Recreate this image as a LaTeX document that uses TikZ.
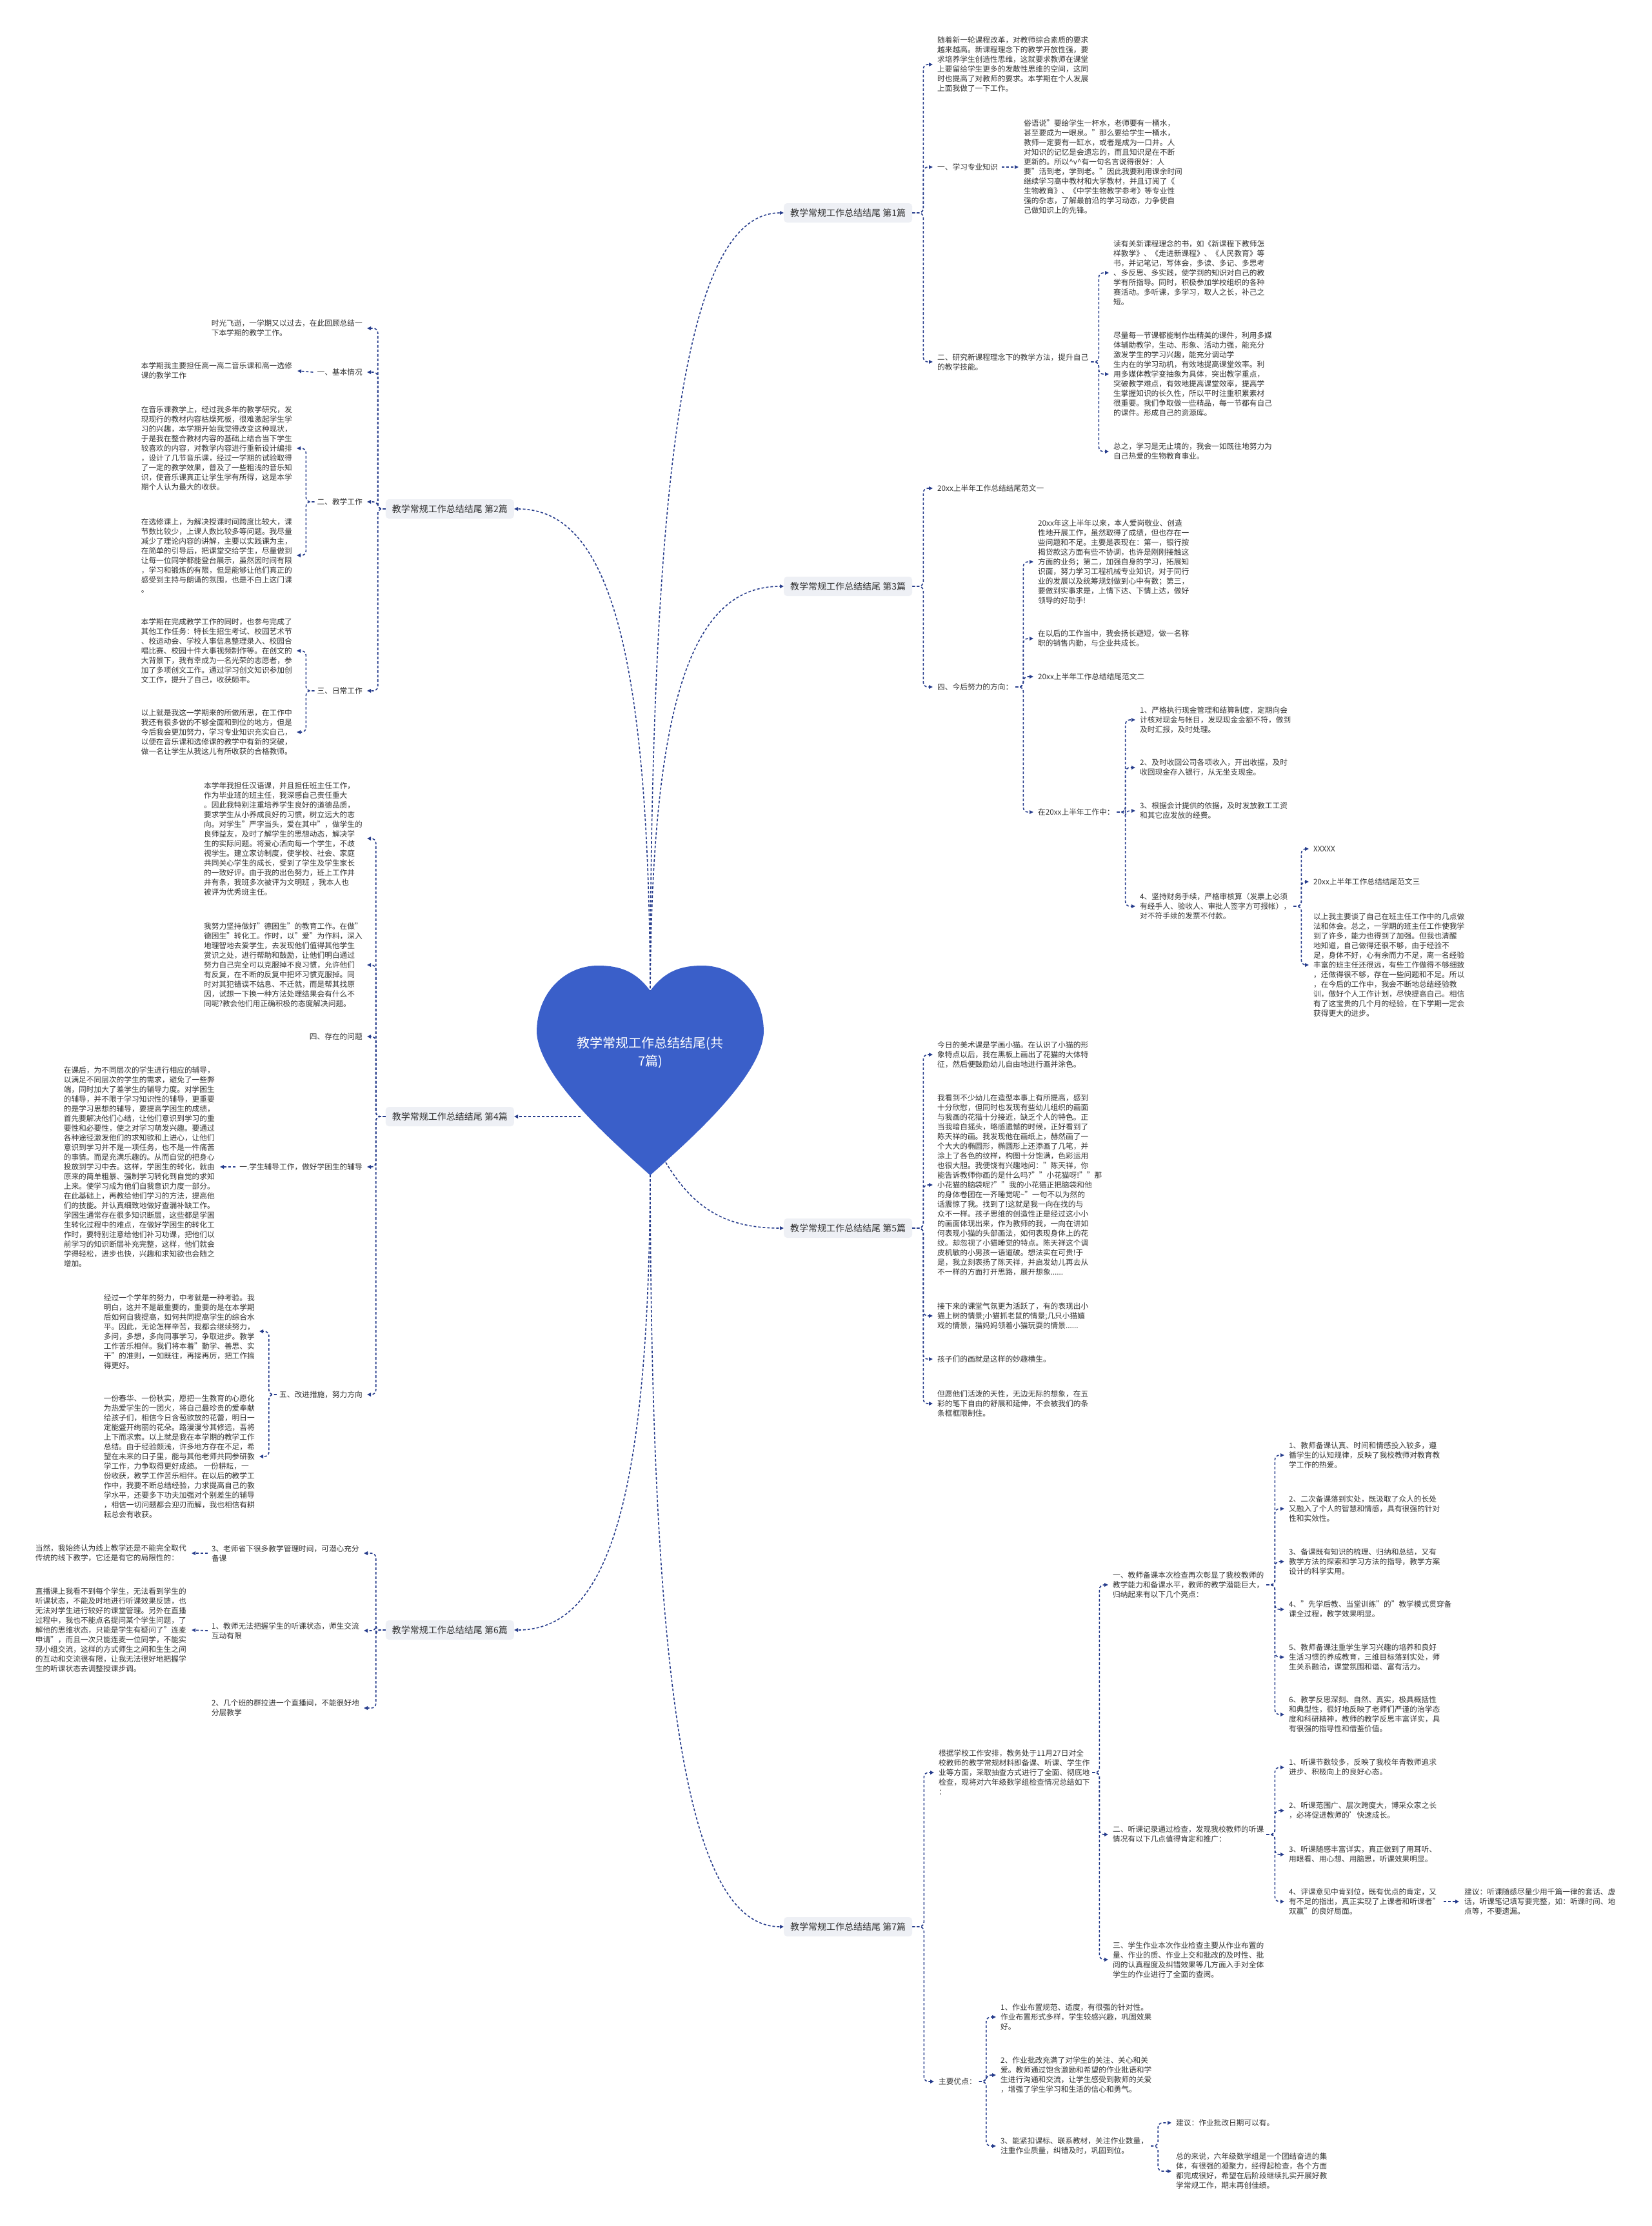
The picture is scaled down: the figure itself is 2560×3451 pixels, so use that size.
\documentclass[tikz,border=0pt]{standalone}
\usepackage{fontspec}
\setmainfont{Noto Sans CJK SC}
\usetikzlibrary{arrows.meta}
\definecolor{lk}{RGB}{38,60,140}
\definecolor{tc}{HTML}{333333}
\definecolor{lb}{HTML}{EEF0F5}
\definecolor{hc}{RGB}{58,95,201}
\begin{document}
\begin{tikzpicture}[x=1pt,y=-1pt,
  conn/.style={draw=lk,line width=1.6pt,dash pattern=on 4pt off 3pt,rounded corners=7pt,-{Triangle[length=6pt,width=5.5pt]}},
  txt/.style={inner sep=0pt,align=left,text=tc,font=\fontsize{11.7}{15}\selectfont},
  lbl/.style={fill=lb,rounded corners=5pt,text=tc,font=\fontsize{14}{16}\selectfont,minimum height=30pt,inner xsep=10pt,inner ysep=0pt}]
\fill[white] (0,0) rectangle (2560,3451);
\useasboundingbox (0,0) rectangle (2560,3451);

% ---------- heart anchor coordinates ----------
\coordinate (htop) at (1008,1560);
\coordinate (hbot) at (1008,1800);
\coordinate (hleft) at (900,1731);
\coordinate (hright) at (1025,1790);

% ---------- branch labels ----------
\node[lbl,anchor=west] (L1) at (1215,330) {教学常规工作总结结尾 第1篇};
\node[lbl,anchor=west] (L3) at (1215,909) {教学常规工作总结结尾 第3篇};
\node[lbl,anchor=west] (L5) at (1215,1904) {教学常规工作总结结尾 第5篇};
\node[lbl,anchor=west] (L7) at (1215,2987) {教学常规工作总结结尾 第7篇};
\node[lbl,anchor=east] (L2) at (797,789) {教学常规工作总结结尾 第2篇};
\node[lbl,anchor=east] (L4) at (797,1731) {教学常规工作总结结尾 第4篇};
\node[lbl,anchor=east] (L6) at (797,2527) {教学常规工作总结结尾 第6篇};

% ---------- heart connectors ----------
\draw[conn] (htop) .. controls (1008,633) and (1079,330) .. (L1.west);
\draw[conn] (htop) .. controls (1008,1067) and (1079,909) .. (L3.west);
\draw[conn] (htop) .. controls (1008,977) and (935,789) .. (L2.east);
\draw[conn] (hleft) -- (L4.east);
\draw[conn] (hright) .. controls (1070,1870) and (1120,1904) .. (L5.west);
\draw[conn] (hbot) .. controls (1008,2351) and (935,2527) .. (L6.east);
\draw[conn] (hbot) .. controls (1008,2696) and (1079,2987) .. (L7.west);

% ---------- heart ----------
\fill[hc] (1008,1536) .. controls (985,1505) and (960,1497) .. (927,1497)
  .. controls (875,1497) and (832,1540) .. (832,1600)
  .. controls (835,1670) and (950,1770) .. (1008,1822)
  .. controls (1066,1770) and (1181,1670) .. (1184,1600)
  .. controls (1184,1540) and (1141,1497) .. (1089,1497)
  .. controls (1056,1497) and (1031,1505) .. (1008,1536) -- cycle;
\node[text=white,align=center,font=\fontsize{20}{28}\selectfont,inner sep=0pt] (root) at (1008,1632) {教学常规工作总结结尾(共\\7篇)};

% ================= Branch 1 =================
\node[txt,anchor=west] (b1a) at (1453,100) {随着新一轮课程改革，对教师综合素质的要求\\越来越高。新课程理念下的教学开放性强，要\\求培养学生创造性思维，这就要求教师在课堂\\上要留给学生更多的发散性思维的空间，这同\\时也提高了对教师的要求。本学期在个人发展\\上面我做了一下工作。};
\node[txt,anchor=west] (b1b) at (1453,259) {一、学习专业知识};
\node[txt,anchor=west] (b1b1) at (1587,259) {俗语说"要给学生一杯水，老师要有一桶水，\\甚至要成为一眼泉。"那么要给学生一桶水，\\教师一定要有一缸水，或者是成为一口井。人\\对知识的记忆是会遗忘的，而且知识是在不断\\更新的。所以\textasciicircum v\textasciicircum 有一句名言说得很好：人\\要"活到老，学到老。"因此我要利用课余时间\\继续学习高中教材和大学教材，并且订阅了《\\生物教育》、《中学生物教学参考》等专业性\\强的杂志，了解最前沿的学习动态，力争使自\\己做知识上的先锋。};
\node[txt,anchor=west] (b1c) at (1453,561) {二、研究新课程理念下的教学方法，提升自己\\的教学技能。};
\node[txt,anchor=west] (b1c1) at (1726,423) {读有关新课程理念的书，如《新课程下教师怎\\样教学》、《走进新课程》、《人民教育》等\\书，并记笔记，写体会，多读、多记、多思考\\、多反思、多实践，使学到的知识对自己的教\\学有所指导。同时，积极参加学校组织的各种\\赛活动。多听课，多学习，取人之长，补己之\\短。};
\node[txt,anchor=west] (b1c2) at (1726,580) {尽量每一节课都能制作出精美的课件，利用多媒\\体辅助教学，生动、形象、活动力强，能充分\\激发学生的学习兴趣，能充分调动学\\生内在的学习动机，有效地提高课堂效率。利\\用多媒体教学变抽象为具体，突出教学重点，\\突破教学难点，有效地提高课堂效率，提高学\\生掌握知识的长久性，所以平时注重积累素材\\很重要。我们争取做一些精品，每一节都有自己\\的课件。形成自己的资源库。};
\node[txt,anchor=west] (b1c3) at (1726,700) {总之，学习是无止境的，我会一如既往地努力为\\自己热爱的生物教育事业。};
\draw[conn] (L1.east) -- ++(17,0) |- ([xshift=-7pt]b1a.west);
\draw[conn] (L1.east) -- ++(17,0) |- ([xshift=-7pt]b1b.west);
\draw[conn] (L1.east) -- ++(17,0) |- ([xshift=-7pt]b1c.west);
\draw[conn] ([xshift=6pt]b1b.east) -- ([xshift=-8pt]b1b1.west);
\draw[conn] ([xshift=4pt]b1c.east) -- ++(12,0) |- ([xshift=-7pt]b1c1.west);
\draw[conn] ([xshift=4pt]b1c.east) -- ++(12,0) |- ([xshift=-7pt]b1c2.west);
\draw[conn] ([xshift=4pt]b1c.east) -- ++(12,0) |- ([xshift=-7pt]b1c3.west);

% ================= Branch 3 =================
\node[txt,anchor=west] (b3a) at (1453,757) {20xx上半年工作总结结尾范文一};
\node[txt,anchor=west] (b3b) at (1453,1065) {四、今后努力的方向：};
\node[txt,anchor=west] (b3b1) at (1609,871) {20xx年这上半年以来，本人爱岗敬业、创造\\性地开展工作，虽然取得了成绩，但也存在一\\些问题和不足。主要是表现在：第一，银行按\\揭贷款这方面有些不协调，也许是刚刚接触这\\方面的业务；第二，加强自身的学习，拓展知\\识面，努力学习工程机械专业知识，对于同行\\业的发展以及统筹规划做到心中有数；第三，\\要做到实事求是，上情下达、下情上达，做好\\领导的好助手!};
\node[txt,anchor=west] (b3b2) at (1609,990) {在以后的工作当中，我会扬长避短，做一名称\\职的销售内勤，与企业共成长。};
\node[txt,anchor=west] (b3b3) at (1609,1049) {20xx上半年工作总结结尾范文二};
\node[txt,anchor=west] (b3b4) at (1609,1259) {在20xx上半年工作中：};
\node[txt,anchor=west] (b3c1) at (1767,1116) {1、严格执行现金管理和结算制度，定期向会\\计核对现金与帐目，发现现金金额不符，做到\\及时汇报，及时处理。};
\node[txt,anchor=west] (b3c2) at (1767,1190) {2、及时收回公司各项收入，开出收据，及时\\收回现金存入银行，从无坐支现金。};
\node[txt,anchor=west] (b3c3) at (1767,1257) {3、根据会计提供的依据，及时发放教工工资\\和其它应发放的经费。};
\node[txt,anchor=west] (b3c4) at (1767,1405) {4、坚持财务手续，严格审核算（发票上必须\\有经手人、验收人、审批人签字方可报帐），\\对不符手续的发票不付款。};
\node[txt,anchor=west] (b3d1) at (2036,1316) {XXXXX};
\node[txt,anchor=west] (b3d2) at (2036,1367) {20xx上半年工作总结结尾范文三};
\node[txt,anchor=west] (b3d3) at (2036,1496) {以上我主要谈了自己在班主任工作中的几点做\\法和体会。总之，一学期的班主任工作使我学\\到了许多，能力也得到了加强。但我也清醒\\地知道，自己做得还很不够，由于经验不\\足，身体不好，心有余而力不足，离一名经验\\丰富的班主任还很远，有些工作做得不够细致\\，还做得很不够，存在一些问题和不足。所以\\，在今后的工作中，我会不断地总结经验教\\训，做好个人工作计划，尽快提高自己。相信\\有了这宝贵的几个月的经验，在下学期一定会\\获得更大的进步。};
\draw[conn] (L3.east) -- ++(17,0) |- ([xshift=-7pt]b3a.west);
\draw[conn] (L3.east) -- ++(17,0) |- ([xshift=-7pt]b3b.west);
\foreach \c in {b3b1,b3b2,b3b3,b3b4}
  \draw[conn] ([xshift=4pt]b3b.east) -- ++(12,0) |- ([xshift=-7pt]\c.west);
\foreach \c in {b3c1,b3c2,b3c3,b3c4}
  \draw[conn] ([xshift=4pt]b3b4.east) -- ++(13,0) |- ([xshift=-7pt]\c.west);
\foreach \c in {b3d1,b3d2,b3d3}
  \draw[conn] ([xshift=4pt]b3c4.east) -- ++(12,0) |- ([xshift=-7pt]\c.west);

% ================= Branch 5 =================
\node[txt,anchor=west] (b5a) at (1453,1635) {今日的美术课是学画小猫。在认识了小猫的形\\象特点以后，我在黑板上画出了花猫的大体特\\征，然后便鼓励幼儿自由地进行画并涂色。};
\node[txt,anchor=west] (b5b) at (1453,1837) {我看到不少幼儿在造型本事上有所提高，感到\\十分欣慰，但同时也发现有些幼儿组织的画面\\与我画的花猫十分接近，缺乏个人的特色。正\\当我暗自摇头，略感遗憾的时候，正好看到了\\陈天祥的画。我发现他在画纸上，赫然画了一\\个大大的椭圆形，椭圆形上还添画了几笔，并\\涂上了各色的纹样，构图十分饱满，色彩运用\\也很大胆。我便饶有兴趣地问："陈天祥，你\\能告诉教师你画的是什么吗?""小花猫呀!""那\\小花猫的脑袋呢?""我的小花猫正把脑袋和他\\的身体卷团在一齐睡觉呢\textasciitilde"一句不以为然的\\话震惊了我。找到了!这就是我一向在找的与\\众不一样。孩子思维的创造性正是经过这小小\\的画面体现出来，作为教师的我，一向在讲如\\何表现小猫的头部画法，如何表现身体上的花\\纹。却忽视了小猫睡觉的特点。陈天祥这个调\\皮机敏的小男孩一语道破。想法实在可贵!于\\是，我立刻表扬了陈天祥，并启发幼儿再去从\\不一样的方面打开思路，展开想象......};
\node[txt,anchor=west] (b5c) at (1453,2040) {接下来的课堂气氛更为活跃了，有的表现出小\\猫上树的情景;小猫抓老鼠的情景;几只小猫嬉\\戏的情景，猫妈妈领着小猫玩耍的情景......};
\node[txt,anchor=west] (b5d) at (1453,2107) {孩子们的画就是这样的妙趣横生。};
\node[txt,anchor=west] (b5e) at (1453,2176) {但愿他们活泼的天性，无边无际的想象，在五\\彩的笔下自由的舒展和延伸，不会被我们的条\\条框框限制住。};
\foreach \c in {b5a,b5b,b5c,b5d,b5e}
  \draw[conn] (L5.east) -- ++(17,0) |- ([xshift=-7pt]\c.west);

% ================= Branch 7 =================
\node[txt,anchor=west] (b7a) at (1455,2748) {根据学校工作安排，教务处于11月27日对全\\校教师的教学常规材料即备课、听课、学生作\\业等方面，采取抽查方式进行了全面、彻底地\\检查，现将对六年级数学组检查情况总结如下\\：};
\node[txt,anchor=west] (b7a1) at (1725,2457) {一、教师备课本次检查再次彰显了我校教师的\\教学能力和备课水平，教师的教学潜能巨大，\\归纳起来有以下几个亮点：};
\node[txt,anchor=west] (b7p1) at (1998,2256) {1、教师备课认真、时间和情感投入较多，遵\\循学生的认知规律，反映了我校教师对教育教\\学工作的热爱。};
\node[txt,anchor=west] (b7p2) at (1998,2339) {2、二次备课落到实处，既汲取了众人的长处\\又融入了个人的智慧和情感，具有很强的针对\\性和实效性。};
\node[txt,anchor=west] (b7p3) at (1998,2421) {3、备课既有知识的梳理、归纳和总结，又有\\教学方法的探索和学习方法的指导，教学方案\\设计的科学实用。};
\node[txt,anchor=west] (b7p4) at (1998,2495) {4、"先学后教、当堂训练"的"教学模式贯穿备\\课全过程，教学效果明显。};
\node[txt,anchor=west] (b7p5) at (1998,2569) {5、教师备课注重学生学习兴趣的培养和良好\\生活习惯的养成教育，三维目标落到实处，师\\生关系融洽，课堂氛围和谐、富有活力。};
\node[txt,anchor=west] (b7p6) at (1998,2658) {6、教学反思深刻、自然、真实，极具概括性\\和典型性，很好地反映了老师们严谨的治学态\\度和科研精神，教师的教学反思丰富详实，具\\有很强的指导性和借鉴价值。};
\node[txt,anchor=west] (b7a2) at (1725,2844) {二、听课记录通过检查，发现我校教师的听课\\情况有以下几点值得肯定和推广：};
\node[txt,anchor=west] (b7q1) at (1998,2740) {1、听课节数较多，反映了我校年青教师追求\\进步、积极向上的良好心态。};
\node[txt,anchor=west] (b7q2) at (1998,2807) {2、听课范围广、层次跨度大，博采众家之长\\，必将促进教师的'快速成长。};
\node[txt,anchor=west] (b7q3) at (1998,2875) {3、听课随感丰富详实，真正做到了用耳听、\\用眼看、用心想、用脑思，听课效果明显。};
\node[txt,anchor=west] (b7q4) at (1998,2948) {4、评课意见中肯到位，既有优点的肯定，又\\有不足的指出，真正实现了上课者和听课者"\\双赢"的良好局面。};
\node[txt,anchor=west] (b7s) at (2270,2948) {建议：听课随感尽量少用千篇一律的套话、虚\\话，听课笔记填写要完整，如：听课时间、地\\点等，不要遗漏。};
\node[txt,anchor=west] (b7a3) at (1725,3038) {三、学生作业本次作业检查主要从作业布置的\\量、作业的质、作业上交和批改的及时性、批\\阅的认真程度及纠错效果等几方面入手对全体\\学生的作业进行了全面的查阅。};
\node[txt,anchor=west] (b7b) at (1455,3227) {主要优点：};
\node[txt,anchor=west] (b7r1) at (1551,3127) {1、作业布置规范、适度，有很强的针对性。\\作业布置形式多样，学生较感兴趣，巩固效果\\好。};
\node[txt,anchor=west] (b7r2) at (1551,3217) {2、作业批改充满了对学生的关注、关心和关\\爱。教师通过饱含激励和希望的作业批语和学\\生进行沟通和交流，让学生感受到教师的关爱\\，增强了学生学习和生活的信心和勇气。};
\node[txt,anchor=west] (b7r3) at (1551,3327) {3、能紧扣课标、联系教材，关注作业数量，\\注重作业质量，纠错及时，巩固到位。};
\node[txt,anchor=west] (b7t1) at (1823,3291) {建议：作业批改日期可以有。};
\node[txt,anchor=west] (b7t2) at (1823,3366) {总的来说，六年级数学组是一个团结奋进的集\\体，有很强的凝聚力，经得起检查，各个方面\\都完成很好，希望在后阶段继续扎实开展好教\\学常规工作，期末再创佳绩。};
\draw[conn] (L7.east) -- ++(18,0) |- ([xshift=-7pt]b7a.west);
\draw[conn] (L7.east) -- ++(18,0) |- ([xshift=-7pt]b7b.west);
\foreach \c in {b7a1,b7a2,b7a3}
  \draw[conn] ([xshift=4pt]b7a.east) -- ++(11,0) |- ([xshift=-7pt]\c.west);
\foreach \c in {b7p1,b7p2,b7p3,b7p4,b7p5,b7p6}
  \draw[conn] ([xshift=4pt]b7a1.east) -- ++(13,0) |- ([xshift=-7pt]\c.west);
\foreach \c in {b7q1,b7q2,b7q3,b7q4}
  \draw[conn] ([xshift=4pt]b7a2.east) -- ++(13,0) |- ([xshift=-7pt]\c.west);
\draw[conn] ([xshift=6pt]b7q4.east) -- ([xshift=-8pt]b7s.west);
\foreach \c in {b7r1,b7r2,b7r3}
  \draw[conn] ([xshift=4pt]b7b.east) -- ++(11,0) |- ([xshift=-7pt]\c.west);
\foreach \c in {b7t1,b7t2}
  \draw[conn] ([xshift=4pt]b7r3.east) -- ++(11,0) |- ([xshift=-7pt]\c.west);

% ================= Branch 2 =================
\node[txt,anchor=east] (b2a) at (562,509) {时光飞逝，一学期又以过去，在此回顾总结一\\下本学期的教学工作。};
\node[txt,anchor=east] (b2b) at (562,577) {一、基本情况};
\node[txt,anchor=east] (b2b1) at (453,575) {本学期我主要担任高一高二音乐课和高一选修\\课的教学工作};
\node[txt,anchor=east] (b2c) at (562,778) {二、教学工作};
\node[txt,anchor=east] (b2c1) at (453,695) {在音乐课教学上，经过我多年的教学研究，发\\现现行的教材内容枯燥死板，很难激起学生学\\习的兴趣，本学期开始我觉得改变这种现状，\\于是我在整合教材内容的基础上结合当下学生\\较喜欢的内容，对教学内容进行重新设计编排\\，设计了几节音乐课，经过一学期的试验取得\\了一定的教学效果，普及了一些粗浅的音乐知\\识，使音乐课真正让学生学有所得，这是本学\\期个人认为最大的收获。};
\node[txt,anchor=east] (b2c2) at (453,861) {在选修课上，为解决授课时间跨度比较大，课\\节数比较少，上课人数比较多等问题。我尽量\\减少了理论内容的讲解，主要以实践课为主，\\在简单的引导后，把课堂交给学生，尽量做到\\让每一位同学都能登台展示，虽然因时间有限\\，学习和锻炼的有限，但是能够让他们真正的\\感受到主持与朗诵的氛围，也是不白上这门课\\。};
\node[txt,anchor=east] (b2d) at (562,1071) {三、日常工作};
\node[txt,anchor=east] (b2d1) at (453,1009) {本学期在完成教学工作的同时，也参与完成了\\其他工作任务：特长生招生考试、校园艺术节\\、校运动会、学校人事信息整理录入、校园合\\唱比赛、校园十件大事视频制作等。在创文的\\大背景下，我有幸成为一名光荣的志愿者，参\\加了多项创文工作。通过学习创文知识参加创\\文工作，提升了自己，收获颇丰。};
\node[txt,anchor=east] (b2d2) at (453,1135) {以上就是我这一学期来的所做所思，在工作中\\我还有很多做的不够全面和到位的地方，但是\\今后我会更加努力，学习专业知识充实自己，\\以便在音乐课和选修课的教学中有新的突破，\\做一名让学生从我这儿有所收获的合格教师。};
\foreach \c in {b2a,b2b,b2c,b2d}
  \draw[conn] (L2.west) -- ++(-12,0) |- ([xshift=7pt]\c.east);
\draw[conn] ([xshift=-6pt]b2b.west) -- ([xshift=8pt]b2b1.east);
\foreach \c in {b2c1,b2c2}
  \draw[conn] ([xshift=-4pt]b2c.west) -- ++(-13,0) |- ([xshift=7pt]\c.east);
\foreach \c in {b2d1,b2d2}
  \draw[conn] ([xshift=-4pt]b2d.west) -- ++(-13,0) |- ([xshift=7pt]\c.east);

% ================= Branch 4 =================
\node[txt,anchor=east] (b4a) at (562,1300) {本学年我担任汉语课，并且担任班主任工作，\\ 作为毕业班的班主任，我深感自己责任重大\\。因此我特别注重培养学生良好的道德品质，\\要求学生从小养成良好的习惯，树立远大的志\\向。对学生"严字当头，爱在其中"，做学生的\\良师益友，及时了解学生的思想动态，解决学\\生的实际问题。将爱心洒向每一个学生，不歧\\视学生。建立家访制度，使学校、社会、家庭\\共同关心学生的成长，受到了学生及学生家长\\的一致好评。由于我的出色努力，班上工作井\\井有条，我班多次被评为文明班 ，我本人也\\被评为优秀班主任。};
\node[txt,anchor=east] (b4b) at (562,1496) {我努力坚持做好"德困生"的教育工作。在做"\\德困生"转化工。作时，以"爱"为作料，深入\\地理智地去爱学生，去发现他们值得其他学生\\赏识之处，进行帮助和鼓励，让他们明白通过\\努力自己完全可以克服掉不良习惯，允许他们\\有反复，在不断的反复中把坏习惯克服掉。同\\时对其犯错误不姑息、不迁就，而是帮其找原\\因，试想一下换一种方法处理结果会有什么不\\同呢?教会他们用正确积极的态度解决问题。};
\node[txt,anchor=east] (b4c) at (562,1607) {四、存在的问题};
\node[txt,anchor=east] (b4d) at (562,1809) {一.学生辅导工作，做好学困生的辅导};
\node[txt,anchor=east] (b4d1) at (333,1809) {在课后，为不同层次的学生进行相应的辅导，\\以满足不同层次的学生的需求，避免了一些弊\\端，同时加大了差学生的辅导力度。对学困生\\的辅导，并不限于学习知识性的辅导，更重要\\的是学习思想的辅导，要提高学困生的成绩，\\首先要解决他们心结，让他们意识到学习的重\\要性和必要性，使之对学习萌发兴趣。要通过\\各种途径激发他们的求知欲和上进心，让他们\\意识到学习并不是一项任务，也不是一件痛苦\\的事情。而是充满乐趣的。从而自觉的把身心\\投放到学习中去。这样，学困生的转化，就由\\原来的简单粗暴、强制学习转化到自觉的求知\\上来。使学习成为他们自我意识力度一部分。\\在此基础上，再教给他们学习的方法，提高他\\们的技能。并认真细致地做好查漏补缺工作。\\学困生通常存在很多知识断层，这些都是学困\\生转化过程中的难点，在做好学困生的转化工\\作时，要特别注意给他们补习功课，把他们以\\前学习的知识断层补充完整，这样，他们就会\\学得轻松，进步也快，兴趣和求知欲也会随之\\增加。};
\node[txt,anchor=east] (b4e) at (562,2162) {五、改进措施，努力方向};
\node[txt,anchor=east] (b4e1) at (395,2064) {经过一个学年的努力，中考就是一种考验。我\\明白，这并不是最重要的，重要的是在本学期\\后如何自我提高，如何共同提高学生的综合水\\平。因此，无论怎样辛苦，我都会继续努力，\\多问，多想，多向同事学习，争取进步。教学\\工作苦乐相伴。我们将本着"勤学、善思、实\\干"的准则，一如既往，再接再厉，把工作搞\\得更好。};
\node[txt,anchor=east] (b4e2) at (395,2258) {一份春华、一份秋实，愿把一生教育的心愿化\\为热爱学生的一团火，将自己最珍贵的爱奉献\\给孩子们，相信今日含苞欲放的花蕾，明日一\\定能盛开绚丽的花朵。路漫漫兮其修远，吾将\\上下而求索。以上就是我在本学期的教学工作\\总结。由于经验颇浅，许多地方存在不足，希\\望在未来的日子里，能与其他老师共同参研教\\学工作，力争取得更好成绩。 一份耕耘，一\\份收获，教学工作苦乐相伴。在以后的教学工\\作中，我要不断总结经验，力求提高自己的教\\学水平，还要多下功夫加强对个别差生的辅导\\，相信一切问题都会迎刃而解，我也相信有耕\\耘总会有收获。};
\foreach \c in {b4a,b4b,b4c,b4d,b4e}
  \draw[conn] (L4.west) -- ++(-15,0) |- ([xshift=7pt]\c.east);
\draw[conn] ([xshift=-6pt]b4d.west) -- ([xshift=8pt]b4d1.east);
\foreach \c in {b4e1,b4e2}
  \draw[conn] ([xshift=-4pt]b4e.west) -- ++(-12,0) |- ([xshift=7pt]\c.east);

% ================= Branch 6 =================
\node[txt,anchor=east] (b6a) at (557,2408) {3、老师省下很多教学管理时间，可潜心充分\\备课};
\node[txt,anchor=east] (b6a1) at (289,2408) {当然，我始终认为线上教学还是不能完全取代\\传统的线下教学，它还是有它的局限性的：};
\node[txt,anchor=east] (b6b) at (557,2528) {1、教师无法把握学生的听课状态，师生交流\\互动有限};
\node[txt,anchor=east] (b6b1) at (289,2527) {直播课上我看不到每个学生，无法看到学生的\\听课状态，不能及时地进行听课效果反馈，也\\无法对学生进行较好的课堂管理。另外在直播\\过程中，我也不能点名提问某个学生问题，了\\解他的思维状态，只能是学生有疑问了"连麦\\申请"，而且一次只能连麦一位同学，不能实\\现小组交流，这样的方式师生之间和生生之间\\的互动和交流很有限，让我无法很好地把握学\\生的听课状态去调整授课步调。};
\node[txt,anchor=east] (b6c) at (557,2648) {2、几个班的群拉进一个直播间，不能很好地\\分层教学};
\foreach \c in {b6a,b6b,b6c}
  \draw[conn] (L6.west) -- ++(-15,0) |- ([xshift=7pt]\c.east);
\draw[conn] ([xshift=-6pt]b6a.west) -- ([xshift=8pt]b6a1.east);
\draw[conn] ([xshift=-6pt]b6b.west) -- ([xshift=8pt]b6b1.east);
\end{tikzpicture}
\end{document}
